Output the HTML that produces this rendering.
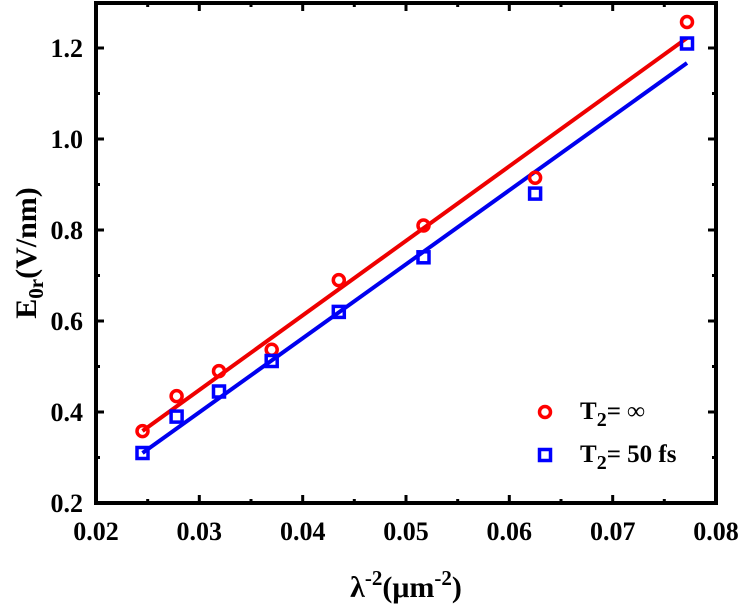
<!DOCTYPE html>
<html><head><meta charset="utf-8"><style>body{margin:0;background:#fff}svg{display:block}svg text{font-family:"Liberation Serif","DejaVu Serif",serif;font-weight:bold}</style></head>
<body>
<svg width="744" height="606" xmlns="http://www.w3.org/2000/svg">
<g stroke="#000" stroke-width="3">
<path d="M96 503v-8M199.3 503v-8M302.7 503v-8M406 503v-8M509.3 503v-8M612.7 503v-8
M147.7 503v-4M251 503v-4M354.3 503v-4M457.7 503v-4M561 503v-4M664.3 503v-4
M199.3 3v8M302.7 3v8M406 3v8M509.3 3v8M612.7 3v8
M147.7 3v4M251 3v4M354.3 3v4M457.7 3v4M561 3v4M664.3 3v4"/>
<path d="M96 412h8M96 321h8M96 230h8M96 139h8M96 48h8
M96 457.5h4M96 366.5h4M96 275.5h4M96 184.5h4M96 93.5h4
M716 412h-8M716 321h-8M716 230h-8M716 139h-8M716 48h-8
M716 457.5h-4M716 366.5h-4M716 275.5h-4M716 184.5h-4M716 93.5h-4"/>
</g>
<rect x="96" y="3" width="620" height="500" fill="none" stroke="#000" stroke-width="4"/>
<line x1="142.5" y1="431" x2="687" y2="38" stroke="#e00" stroke-width="4"/>
<line x1="142.5" y1="453" x2="687" y2="63" stroke="#00e" stroke-width="4"/>
<g fill="none" stroke="#f00" stroke-width="3.5">
<circle cx="142.5" cy="431.1" r="5.5"/><circle cx="176.6" cy="396.1" r="5.5"/><circle cx="219" cy="371.1" r="5.5"/><circle cx="271.7" cy="349.7" r="5.5"/><circle cx="338.8" cy="280.1" r="5.5"/><circle cx="423.5" cy="225.5" r="5.5"/><circle cx="535.1" cy="177.7" r="5.5"/><circle cx="687" cy="22" r="5.5"/>
<circle cx="545" cy="412" r="5.5"/>
</g>
<g fill="none" stroke="#00f" stroke-width="3.5">
<rect x="137" y="447.5" width="11" height="11"/><rect x="171.1" y="411.1" width="11" height="11"/><rect x="213.5" y="386" width="11" height="11"/><rect x="266.2" y="355.5" width="11" height="11"/><rect x="333.3" y="306.4" width="11" height="11"/><rect x="418" y="251.8" width="11" height="11"/><rect x="529.6" y="188.1" width="11" height="11"/><rect x="681.5" y="38" width="11" height="11"/>
<rect x="539.5" y="449.5" width="11" height="11"/>
</g>
<g font-size="26" text-anchor="end">
<text x="83" y="512">0.2</text><text x="83" y="421">0.4</text><text x="83" y="330">0.6</text><text x="83" y="239">0.8</text><text x="83" y="148">1.0</text><text x="83" y="57">1.2</text>
</g>
<g font-size="26" text-anchor="middle">
<text x="96" y="540">0.02</text><text x="199.3" y="540">0.03</text><text x="302.7" y="540">0.04</text><text x="406" y="540">0.05</text><text x="509.3" y="540">0.06</text><text x="612.7" y="540">0.07</text><text x="716" y="540">0.08</text>
</g>
<text x="406" y="597" font-size="30" text-anchor="middle">λ<tspan font-size="21" dy="-12">-2</tspan><tspan dy="12">(μm</tspan><tspan font-size="21" dy="-12">-2</tspan><tspan dy="12">)</tspan></text>
<text transform="translate(36,253) rotate(-90)" font-size="30" text-anchor="middle">E<tspan font-size="21" dy="7">0r</tspan><tspan dy="-7">(V/nm)</tspan></text>
<text x="580" y="419" font-size="25">T<tspan font-size="20" dy="7">2</tspan><tspan dy="-7">= ∞</tspan></text>
<text x="580" y="462" font-size="25">T<tspan font-size="20" dy="7">2</tspan><tspan dy="-7">= 50 fs</tspan></text>
</svg>
</body></html>
